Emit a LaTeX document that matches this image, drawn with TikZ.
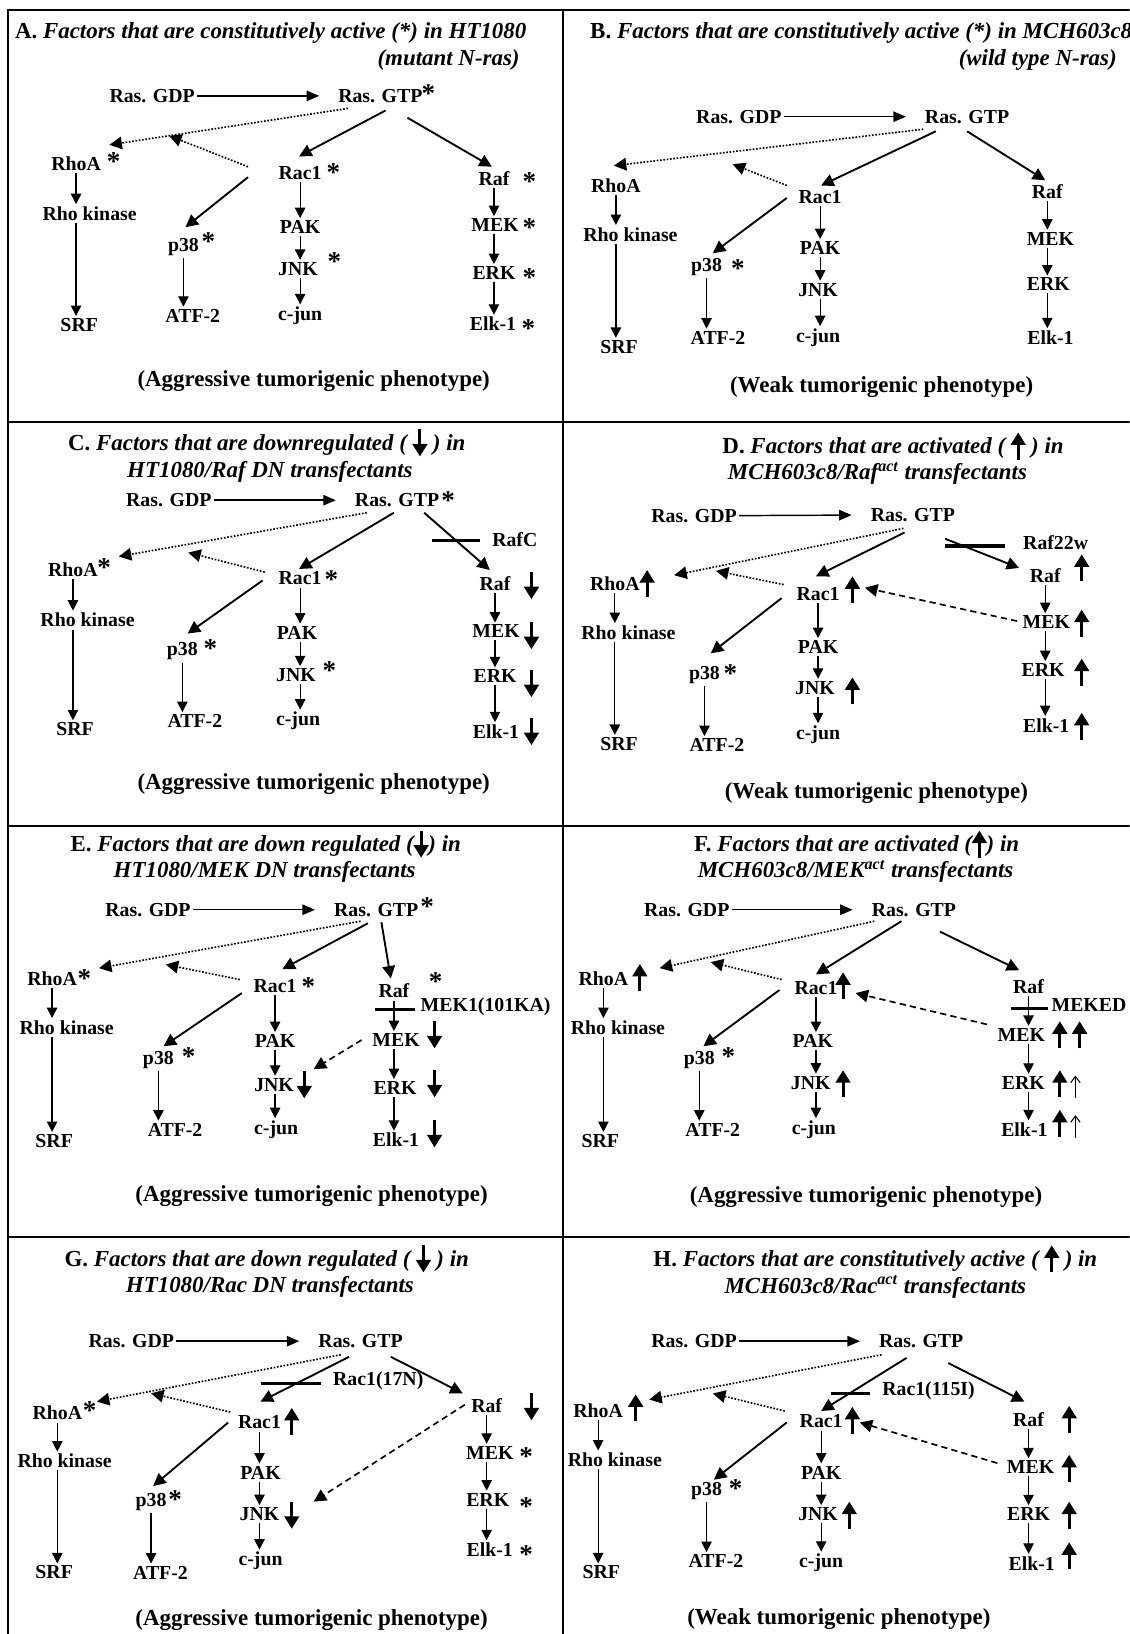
\documentclass[tikz,border=0pt]{standalone}
\usepackage{fontspec}
\setmainfont{Liberation Serif}
\usepackage{xcolor}
\usetikzlibrary{arrows.meta, positioning, calc}

% thick marker arrows and the thin open one
\newcommand{\upmk}{\tikz[baseline=3pt]\draw[line width=1.4pt,-{Triangle[length=6pt,width=7pt]}] (0,0) -- (0,13pt);}
\newcommand{\dnmk}{\tikz[baseline=3pt]\draw[line width=1.4pt,-{Triangle[length=6pt,width=7pt]}] (0,13pt) -- (0,0);}
\newcommand{\thinup}{\tikz[baseline=3pt]\draw[line width=0.5pt,-{Straight Barb[length=3pt,width=4.5pt]}] (0,0) -- (0,11pt);}

% arrows that every panel has
\newcommand{\links}[1]{%
  \draw[ras] (#1gdp) -- (#1gtp);
  \draw[vv] (#1rho.south) -- (#1rho |- #1rok.north);
  \draw[vv] (#1rho |- #1rok.south) -- (#1rho |- #1srf.north);
  \draw[vv] (#1p38.south) -- (#1p38 |- #1atf.north);
  \draw[vv] (#1rac.south) -- (#1rac |- #1pak.north);
  \draw[vv] (#1rac |- #1pak.south) -- (#1rac |- #1jnk.north);
  \draw[vv] (#1rac |- #1jnk.south) -- (#1rac |- #1jun.north);
  \draw[vv] (#1raf.south) -- (#1raf |- #1mek.north);
  \draw[vv] (#1raf |- #1mek.south) -- (#1raf |- #1erk.north);
  \draw[vv] (#1raf |- #1erk.south) -- (#1raf |- #1elk.north);
}

\begin{document}
\begin{tikzpicture}[x=0.5pt, y=-0.5pt,
    prot/.style={font=\bfseries\fontsize{9.5}{11}\selectfont, inner sep=1pt},
    ttl/.style={font=\bfseries\itshape\fontsize{11}{13}\selectfont, inner sep=0pt},
    pheno/.style={font=\bfseries\fontsize{11}{13}\selectfont, inner sep=0pt},
    st/.style={font=\bfseries\fontsize{13}{13}\selectfont, inner sep=0pt},
    mk/.style={inner sep=0pt},
    panelline/.style={line width=0.9pt},
    ras/.style={line width=0.7pt, -{Triangle[length=6pt,width=5pt]}, shorten >=8pt},
    vv/.style={line width=0.6pt, -{Triangle[length=5pt,width=5pt]}},
    sig/.style={line width=0.9pt, -{Triangle[length=6pt,width=6pt]}},
    dotsig/.style={sig, line width=0.8pt, dash pattern=on 0.8pt off 0.8pt},
    dashsig/.style={sig, line width=0.8pt, dash pattern=on 3pt off 2pt},
    xbar/.style={line width=1.5pt}]
\clip (0,0) rectangle (1084,1568);
\fill[white] (0,0) rectangle (1084,1568);

% panel frame
\draw[panelline] (8,1568) -- (8,10) -- (1084,10);
\draw[panelline] (540,10) -- (540,1568);
\foreach \yy in {405,793,1187}
  \draw[panelline] (8,\yy) -- (1084,\yy);

% ---- A
\node[ttl, anchor=base west] (At1) at (14,37) {\textup{A.} Factors that are constitutively active (*) in HT1080};
\node[ttl, anchor=base east] (At2) at (499,63) {(mutant N-ras)};
\foreach \n/\x/\y/\lbl in {gdp/146/92/Ras. GDP, gtp/365/92/Ras. GTP, rho/73/157/RhoA, rok/86/205/Rho kinase,
    srf/76/312/SRF, p38/176/237/p38, atf/185/303/ATF-2, rac/288/166/Rac1, pak/288/218/PAK, jnk/286/258/JNK,
    jun/288/303/c-jun, raf/474/171/Raf, mek/475/216/MEK, erk/474/262/ERK, elk/473/311/Elk-1}
  \node[prot] (A\n) at (\x,\y) {\lbl};
\foreach \n/\x/\y in {1/411/90, 2/109/155, 3/200/232, 4/320/166, 5/321/251, 6/508/174, 7/508/218, 8/508/266, 9/507/315}
  \node[st] (As\n) at (\x,\y) {*};
\node[pheno] (Aph) at (301,366) {(Aggressive tumorigenic phenotype)};
\links{A}
\draw[dotsig] ([shift={(-31,12)}]Agtp.center) -- coordinate[pos=.75] (Amid) ([shift={(32,-18)}]Arho.center);
\draw[dotsig] ([shift={(-50,-6)}]Arac.center) -- (Amid);
\draw[sig] ([shift={(5,14)}]Agtp.center) -- ([shift={(-1,-16)}]Arac.center);
\draw[sig] ([shift={(26,21)}]Agtp.center) -- ([shift={(-2,-11)}]Araf.center);
\draw[sig] ([shift={(-50,4)}]Arac.center) -- ([shift={(2,-19)}]Ap38.center);

% ---- B
\node[ttl, anchor=base west] (Bt1) at (566,37) {\textup{B.} Factors that are constitutively active (*) in MCH603c8};
\node[ttl, anchor=base east] (Bt2) at (1072,63) {(wild type N-ras)};
\foreach \n/\x/\y/\lbl in {gdp/709/112/Ras. GDP, gtp/928/112/Ras. GTP, rho/591/178/RhoA, rok/605/225/Rho kinase,
    srf/594/333/SRF, p38/678/256/p38, atf/689/324/ATF-2, rac/787/189/Rac1, pak/787/238/PAK, jnk/785/278/JNK,
    jun/785/324/c-jun, raf/1005/184/Raf, mek/1008/229/MEK, erk/1006/273/ERK, elk/1008/324/Elk-1}
  \node[prot] (B\n) at (\x,\y) {\lbl};
\node[st] (Bs1) at (708,258) {*};
\node[pheno] (Bph) at (846,371) {(Weak tumorigenic phenotype)};
\links{B}
\draw[dotsig] ([shift={(-42,12)}]Bgtp.center) -- coordinate[pos=.616] (Bmid) ([shift={(-2,-19)}]Brho.center);
\draw[dotsig] ([shift={(-32,-11)}]Brac.center) -- ([shift={(0,12)}]Bmid);
\draw[sig] ([shift={(-30,14)}]Bgtp.center) -- ([shift={(1,-11)}]Brac.center);
\draw[sig] ([shift={(0,14)}]Bgtp.center) -- ([shift={(-2,-11)}]Braf.center);
\draw[sig] ([shift={(-32,1)}]Brac.center) -- ([shift={(6,-13)}]Bp38.center);

% ---- C
\node[ttl, anchor=base] (Ct1) at (256,432) {\textup{C.} Factors that are downregulated ( \dnmk{} ) in};
\node[ttl, anchor=base] (Ct2) at (259,458) {HT1080/Raf DN transfectants};
\foreach \n/\x/\y/\lbl in {gdp/162/480/Ras. GDP, gtp/381/480/Ras. GTP, rho/70/547/RhoA, rok/84/595/Rho kinase,
    srf/72/700/SRF, p38/175/625/p38, atf/187/692/ATF-2, rac/288/555/Rac1, pak/285/607/PAK, jnk/284/648/JNK,
    jun/286/692/c-jun, raf/475/560/Raf, mek/476/606/MEK, erk/475/649/ERK, elk/476/702/Elk-1}
  \node[prot] (C\n) at (\x,\y) {\lbl};
\foreach \n/\x/\y in {1/430/480, 2/100/545, 3/202/622, 4/318/556, 5/316/643}
  \node[st] (Cs\n) at (\x,\y) {*};
\foreach \n/\x/\y in {1/510/562, 2/510/610, 3/510/656, 4/510/702}
  \node[mk] (Cm\n) at (\x,\y) {\dnmk};
\node[prot] (Clab) at (494,518) {RafC};
\draw[xbar] (415,519) -- (461,519);
\node[pheno] (Cph) at (301,752) {(Aggressive tumorigenic phenotype)};
\links{C}
\draw[dotsig] ([shift={(-29,12)}]Cgtp.center) -- coordinate[pos=.72] (Cmid) ([shift={(44,-13)}]Crho.center);
\draw[dotsig] ([shift={(-34,-6)}]Crac.center) -- ([shift={(0,8)}]Cmid);
\draw[sig] ([shift={(-3,12)}]Cgtp.center) -- ([shift={(-1,-9)}]Crac.center);
\draw[sig] ([shift={(26,12)}]Cgtp.center) -- ([shift={(-5,-13)}]Craf.center);
\draw[sig] ([shift={(-36,2)}]Crac.center) -- ([shift={(5,-17)}]Cp38.center);

% ---- D
\node[ttl, anchor=base] (Dt1) at (857,435) {\textup{D.} Factors that are activated ( \upmk{} ) in};
\node[ttl, anchor=base] (Dt2) at (842,460) {MCH603c8/Raf\textsuperscript{act} transfectants};
\foreach \n/\x/\y/\lbl in {gdp/666/495/Ras. GDP, gtp/876/494/Ras. GTP, rho/590/560/RhoA, rok/603/607/Rho kinase,
    srf/594/714/SRF, p38/676/648/p38, atf/688/715/ATF-2, rac/785/570/Rac1, pak/785/621/PAK, jnk/782/660/JNK,
    jun/785/705/c-jun, raf/1003/552/Raf, mek/1004/597/MEK, erk/1001/643/ERK, elk/1004/696/Elk-1}
  \node[prot] (D\n) at (\x,\y) {\lbl};
\node[st] (Ds1) at (701,646) {*};
\foreach \n/\x/\y in {1/621/560, 2/818/566, 3/818/663, 4/1038/545, 5/1038/598, 6/1038/645, 7/1038/697}
  \node[mk] (Dm\n) at (\x,\y) {\upmk};
\node[prot] (Dlab) at (1013,521) {Raf22w};
\draw[xbar] (907,524) -- (964,524);
\node[pheno] (Dph) at (841,761) {(Weak tumorigenic phenotype)};
\links{D}
\draw[dotsig] ([shift={(-9,13)}]Dgtp.center) -- coordinate[pos=.818] (Dmid) ([shift={(57,-8)}]Drho.center);
\draw[dotsig] ([shift={(-33,-9)}]Drac.center) -- ([shift={(0,4)}]Dmid);
\draw[sig] ([shift={(-8,17)}]Dgtp.center) -- ([shift={(-2,-17)}]Drac.center);
\draw[sig] ([shift={(31,23)}]Dgtp.center) -- ([shift={(-25,-7)}]Draf.center);
\draw[sig] ([shift={(-35,4)}]Drac.center) -- ([shift={(6,-21)}]Dp38.center);
\draw[dashsig] ([shift={(-28,-1)}]Dmek.center) -- ([shift={(45,-6)}]Drac.center);

% ---- E
\node[ttl, anchor=base] (Et1) at (255,817) {\textup{E.} Factors that are down regulated (\dnmk) in};
\node[ttl, anchor=base] (Et2) at (254,842) {HT1080/MEK DN transfectants};
\foreach \n/\x/\y/\lbl in {gdp/142/873/Ras. GDP, gtp/361/873/Ras. GTP, rho/50/939/RhoA, rok/64/986/Rho kinase,
    srf/52/1095/SRF, p38/152/1017/p38, atf/168/1084/ATF-2, rac/264/946/Rac1, pak/264/999/PAK, jnk/263/1041/JNK,
    jun/265/1084/c-jun, raf/378/951/Raf, mek/380/998/MEK, erk/379/1044/ERK, elk/380/1094/Elk-1}
  \node[prot] (E\n) at (\x,\y) {\lbl};
\foreach \n/\x/\y in {1/410/870, 2/81/939, 3/181/1014, 4/296/947, 5/418/942}
  \node[st] (Es\n) at (\x,\y) {*};
\foreach \n/\x/\y in {1/292/1041, 2/417/993, 3/417/1040, 4/417/1088}
  \node[mk] (Em\n) at (\x,\y) {\dnmk};
\node[prot] (Elab) at (466,966) {MEK1(101KA)};
\draw[xbar] (360,969) -- (398,969);
\node[pheno] (Eph) at (299,1148) {(Aggressive tumorigenic phenotype)};
\links{E}
\draw[dotsig] ([shift={(-15,11)}]Egtp.center) -- coordinate[pos=.745] (Emid) ([shift={(45,-10)}]Erho.center);
\draw[dotsig] ([shift={(-34,-6)}]Erac.center) -- ([shift={(0,8)}]Emid);
\draw[sig] ([shift={(-8,13)}]Egtp.center) -- ([shift={(7,-16)}]Erac.center);
\draw[sig] ([shift={(5,12)}]Egtp.center) -- ([shift={(-3,-12)}]Eraf.center);
\draw[sig] ([shift={(-32,7)}]Erac.center) -- ([shift={(5,-13)}]Ep38.center);
\draw[dashsig] ([shift={(-33,0)}]Emek.center) -- ([shift={(38,-15)}]Ejnk.center);

% ---- F
\node[ttl, anchor=base] (Ft1) at (822,817) {\textup{F.} Factors that are activated (\upmk) in};
\node[ttl, anchor=base] (Ft2) at (821,842) {MCH603c8/MEK\textsuperscript{act} transfectants};
\foreach \n/\x/\y/\lbl in {gdp/659/873/Ras. GDP, gtp/877/873/Ras. GTP, rho/579/939/RhoA, rok/593/986/Rho kinase,
    srf/576/1095/SRF, p38/671/1017/p38, atf/684/1084/ATF-2, rac/783/948/Rac1, pak/780/999/PAK, jnk/778/1039/JNK,
    jun/781/1084/c-jun, raf/987/947/Raf, mek/980/993/MEK, erk/982/1039/ERK, elk/983/1084/Elk-1}
  \node[prot] (F\n) at (\x,\y) {\lbl};
\node[st] (Fs1) at (699,1014) {*};
\foreach \n/\x/\y in {1/614/938, 2/809/946, 3/809/1040, 4/1017/993, 5/1036/993, 6/1017/1040, 7/1017/1078}
  \node[mk] (Fm\n) at (\x,\y) {\upmk};
\foreach \n/\x/\y in {1/1032/1043, 2/1032/1081}
  \node[mk] (Fo\n) at (\x,\y) {\thinup};
\node[prot] (Flab) at (1045,964) {MEKED};
\draw[xbar] (970,968) -- (1006,968);
\node[pheno] (Fph) at (831,1149) {(Aggressive tumorigenic phenotype)};
\links{F}
\draw[dotsig] ([shift={(-38,11)}]Fgtp.center) -- coordinate[pos=.762] (Fmid) ([shift={(54,-10)}]Frho.center);
\draw[dotsig] ([shift={(-33,-8)}]Frac.center) -- ([shift={(0,5)}]Fmid);
\draw[sig] ([shift={(-12,11)}]Fgtp.center) -- ([shift={(0,-13)}]Frac.center);
\draw[sig] ([shift={(25,21)}]Fgtp.center) -- ([shift={(-9,-16)}]Fraf.center);
\draw[sig] ([shift={(-35,2)}]Frac.center) -- ([shift={(4,-13)}]Fp38.center);
\draw[dashsig] ([shift={(-33,-10)}]Fmek.center) -- ([shift={(38,5)}]Frac.center);

% ---- G
\node[ttl, anchor=base] (Gt1) at (256,1215) {\textup{G.} Factors that are down regulated ( \dnmk{} ) in};
\node[ttl, anchor=base] (Gt2) at (259,1240) {HT1080/Rac DN transfectants};
\foreach \n/\x/\y/\lbl in {gdp/126/1287/Ras. GDP, gtp/346/1287/Ras. GTP, rho/55/1356/RhoA, rok/62/1402/Rho kinase,
    srf/52/1509/SRF, p38/145/1441/p38, atf/154/1509/ATF-2, rac/249/1365/Rac1, pak/250/1413/PAK, jnk/249/1453/JNK,
    jun/250/1498/c-jun, raf/467/1349/Raf, mek/470/1394/MEK, erk/468/1439/ERK, elk/470/1487/Elk-1}
  \node[prot] (G\n) at (\x,\y) {\lbl};
\foreach \n/\x/\y in {1/86/1354, 2/168/1439, 3/505/1398, 4/505/1446, 5/505/1492}
  \node[st] (Gs\n) at (\x,\y) {*};
\node[mk] (Gm1) at (280,1364) {\upmk};
\node[mk] (Gm2) at (280,1454) {\dnmk};
\node[mk] (Gm3) at (510,1350) {\dnmk};
\node[prot] (Glab) at (363,1325) {Rac1(17N)};
\draw[xbar] (250,1328) -- (308,1328);
\node[pheno] (Gph) at (299,1555) {(Aggressive tumorigenic phenotype)};
\links{G}
\draw[dotsig] ([shift={(-19,13)}]Ggtp.center) -- coordinate[pos=.778] (Gmid) ([shift={(38,-11)}]Grho.center);
\draw[dotsig] ([shift={(-28,-10)}]Grac.center) -- ([shift={(0,2)}]Gmid);
\draw[sig] ([shift={(-11,15)}]Ggtp.center) -- ([shift={(1,-20)}]Grac.center);
\draw[sig] ([shift={(29,15)}]Ggtp.center) -- ([shift={(-23,-12)}]Graf.center);
\draw[sig] ([shift={(-30,0)}]Grac.center) -- ([shift={(2,-15)}]Gp38.center);
\draw[dashsig] ([shift={(-21,-1)}]Graf.center) -- ([shift={(52,-12)}]Gjnk.center);

% ---- H
\node[ttl, anchor=base] (Ht1) at (840,1215) {\textup{H.} Factors that are constitutively active ( \upmk{} ) in};
\node[ttl, anchor=base] (Ht2) at (840,1241) {MCH603c8/Rac\textsuperscript{act} transfectants};
\foreach \n/\x/\y/\lbl in {gdp/666/1287/Ras. GDP, gtp/884/1287/Ras. GTP, rho/574/1354/RhoA, rok/590/1401/Rho kinase,
    srf/577/1509/SRF, p38/678/1431/p38, atf/687/1498/ATF-2, rac/788/1364/Rac1, pak/788/1413/PAK, jnk/785/1453/JNK,
    jun/788/1500/c-jun, raf/987/1362/Raf, mek/989/1408/MEK, erk/987/1453/ERK, elk/990/1500/Elk-1}
  \node[prot] (H\n) at (\x,\y) {\lbl};
\node[st] (Hs1) at (706,1428) {*};
\foreach \n/\x/\y in {1/610/1351, 2/818/1363, 3/815/1454, 4/1026/1362, 5/1026/1409, 6/1026/1454, 7/1026/1493}
  \node[mk] (Hm\n) at (\x,\y) {\upmk};
\node[prot] (Hlab) at (891,1335) {Rac1(115I)};
\draw[xbar] (797,1337) -- (835,1337);
\node[pheno] (Hph) at (805,1554) {(Weak tumorigenic phenotype)};
\links{H}
\draw[dotsig] ([shift={(-38,13)}]Hgtp.center) -- coordinate[pos=.726] (Hmid) ([shift={(49,-11)}]Hrho.center);
\draw[dotsig] ([shift={(-35,-10)}]Hrac.center) -- ([shift={(0,6)}]Hmid);
\draw[sig] ([shift={(-14,16)}]Hgtp.center) -- ([shift={(0,-10)}]Hrac.center);
\draw[sig] ([shift={(26,21)}]Hgtp.center) -- ([shift={(-4,-17)}]Hraf.center);
\draw[sig] ([shift={(-33,1)}]Hrac.center) -- ([shift={(7,-11)}]Hp38.center);
\draw[dashsig] ([shift={(-32,-4)}]Hmek.center) -- ([shift={(37,1)}]Hrac.center);
\end{tikzpicture}
\end{document}
